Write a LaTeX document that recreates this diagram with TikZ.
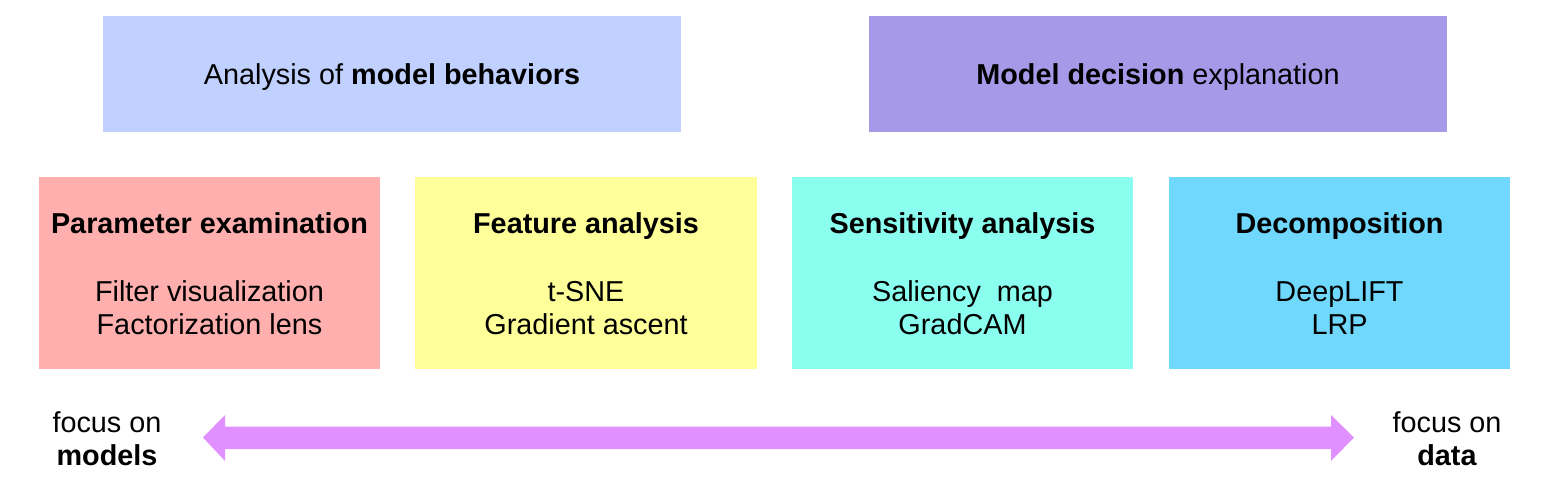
\documentclass[tikz,border=0pt]{standalone}
\usepackage{fontspec}
\setmainfont{Liberation Sans}
\definecolor{topL}{HTML}{C0D0FF}
\definecolor{topR}{HTML}{A69AE8}
\definecolor{cPink}{HTML}{FFB0AE}
\definecolor{cYellow}{HTML}{FFFF99}
\definecolor{cCyan}{HTML}{8AFFF0}
\definecolor{cBlue}{HTML}{70D8FC}
\definecolor{cArrow}{HTML}{E090FF}
\begin{document}
\begin{tikzpicture}[x=1pt,y=-1pt,
  txt/.style={font=\fontsize{28.8}{33}\selectfont, align=center, inner sep=0pt},
  head/.style={font=\fontsize{28.8}{33}\selectfont\bfseries, inner sep=0pt, anchor=base}]
\useasboundingbox (0,0) rectangle (1563,492);
\fill[topL] (103,16) rectangle (681,132);
\fill[topR] (869,16) rectangle (1447,132);
\node[txt] (tl) at (392,77.5) {Analysis of \textbf{model behaviors}};
\node[txt] (tr) at (1158,77.5) {\textbf{Model decision} explanation};
\fill[cPink] (39,177) rectangle (380,369);
\fill[cYellow] (415,177) rectangle (757,369);
\fill[cCyan] (792,177) rectangle (1133,369);
\fill[cBlue] (1169,177) rectangle (1510,369);
\node[head] (h1) at (209.5,233) {Parameter examination};
\node[head] (h2) at (586,233) {Feature analysis};
\node[head] (h3) at (962.5,233) {Sensitivity analysis};
\node[head] (h4) at (1339.5,233) {Decomposition};
\node[txt] (l1) at (209.5,308) {Filter visualization\\Factorization lens};
\node[txt] (l2) at (586,308) {t-SNE\\Gradient ascent};
\node[txt] (l3) at (962.5,308) {Saliency\ \ map\\GradCAM};
\node[txt] (l4) at (1339.5,308) {DeepLIFT\\LRP};
\node[txt] (fm) at (107,438.5) {focus on\\\textbf{models}};
\node[txt] (fd) at (1447,438.5) {focus on\\\textbf{data}};
\fill[cArrow] (203,437.5) -- (225,415) -- (225,426.5) -- (1331,426.5) -- (1331,415)
  -- (1354,437.5) -- (1331,461) -- (1331,449) -- (225,449) -- (225,461) -- cycle;
\end{tikzpicture}
\end{document}
